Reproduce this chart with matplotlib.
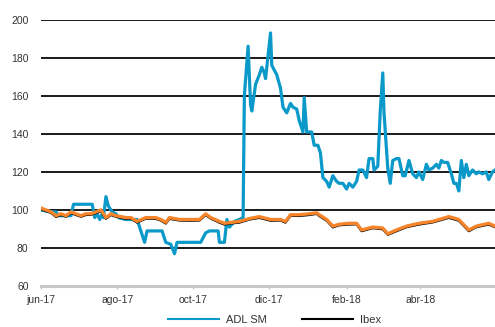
import matplotlib.pyplot as plt
import numpy as np
import pandas as pd

# ADL SM (base 100)
adl_dates = [
    "2017-06-01", "2017-06-09", "2017-06-13", "2017-06-15", "2017-06-25", "2017-06-27",
    "2017-07-12", "2017-07-14", "2017-07-16", "2017-07-18", "2017-07-20", "2017-07-21",
    "2017-07-23", "2017-07-25", "2017-07-28", "2017-07-31", "2017-08-02", "2017-08-08",
    "2017-08-17", "2017-08-20", "2017-08-23", "2017-08-25", "2017-09-06", "2017-09-09",
    "2017-09-13", "2017-09-16", "2017-09-18", "2017-10-07", "2017-10-11", "2017-10-14",
    "2017-10-21", "2017-10-22", "2017-10-26", "2017-10-28", "2017-10-30", "2017-11-03",
    "2017-11-07", "2017-11-10", "2017-11-11", "2017-11-14", "2017-11-16", "2017-11-17",
    "2017-11-20", "2017-11-23", "2017-11-25", "2017-11-27", "2017-11-28", "2017-12-02",
    "2017-12-03", "2017-12-07", "2017-12-10", "2017-12-12", "2017-12-15", "2017-12-18",
    "2017-12-20", "2017-12-23", "2017-12-25", "2017-12-28", "2017-12-29", "2017-12-31",
    "2018-01-04", "2018-01-06", "2018-01-09", "2018-01-11", "2018-01-13", "2018-01-16",
    "2018-01-18", "2018-01-21", "2018-01-24", "2018-01-26", "2018-01-29", "2018-02-01",
    "2018-02-03", "2018-02-06", "2018-02-09", "2018-02-11", "2018-02-14", "2018-02-17",
    "2018-02-19", "2018-02-22", "2018-02-23", "2018-02-26", "2018-02-28", "2018-03-02",
    "2018-03-03", "2018-03-06", "2018-03-08", "2018-03-10", "2018-03-13", "2018-03-15",
    "2018-03-18", "2018-03-20", "2018-03-23", "2018-03-26", "2018-03-29", "2018-03-31",
    "2018-04-03", "2018-04-06", "2018-04-08", "2018-04-11", "2018-04-14", "2018-04-16",
    "2018-04-18", "2018-04-20", "2018-04-23", "2018-04-26", "2018-04-28", "2018-04-30",
    "2018-05-02", "2018-05-04", "2018-05-06", "2018-05-08", "2018-05-10", "2018-05-13",
    "2018-05-16", "2018-05-18", "2018-05-21", "2018-05-24", "2018-05-26", "2018-05-29",
    "2018-05-31",
]
adl_values = [
    100, 99, 99, 97, 97, 103,
    103, 96, 98, 95, 98, 96,
    107, 102, 99, 98, 96, 95,
    95, 89, 83, 89, 89, 83,
    82, 77, 83, 83, 88, 89,
    89, 83, 83, 95, 91, 94,
    95, 96, 160, 186, 155, 152,
    166, 171, 175, 172, 169, 193,
    176, 171, 164, 154, 151, 156,
    154, 153, 147, 141, 159, 141,
    141, 134, 134, 130, 117, 115,
    112, 118, 115, 114, 114, 111,
    114, 112, 115, 121, 121, 117,
    127, 127, 121, 123, 152, 172,
    151, 122, 114, 126, 127, 127,
    118, 118, 126, 119, 117, 120,
    116, 124, 121, 122, 124, 122,
    126, 125, 125, 119, 114, 114,
    110, 126, 117, 124, 118, 121,
    119, 120, 119, 120, 116, 120,
    121,
]

# sector / Ibex (base 100)
idx_dates = [
    "2017-06-01", "2017-06-05", "2017-06-09", "2017-06-13", "2017-06-17", "2017-06-21",
    "2017-06-25", "2017-06-29", "2017-07-03", "2017-07-07", "2017-07-11", "2017-07-15",
    "2017-07-19", "2017-07-23", "2017-07-27", "2017-07-31", "2017-08-08", "2017-08-12",
    "2017-08-17", "2017-08-24", "2017-09-01", "2017-09-05", "2017-09-09", "2017-09-12",
    "2017-09-20", "2017-09-28", "2017-10-06", "2017-10-11", "2017-10-15", "2017-10-22",
    "2017-10-26", "2017-11-01", "2017-11-07", "2017-11-15", "2017-11-23", "2017-12-02",
    "2017-12-10", "2017-12-14", "2017-12-18", "2017-12-25", "2018-01-02", "2018-01-08",
    "2018-01-10", "2018-01-16", "2018-01-21", "2018-01-26", "2018-02-03", "2018-02-09",
    "2018-02-13", "2018-02-22", "2018-03-02", "2018-03-06", "2018-03-13", "2018-03-21",
    "2018-03-31", "2018-04-11", "2018-04-24", "2018-05-02", "2018-05-10", "2018-05-16",
    "2018-05-26", "2018-05-31",
]
sector_values = [
    101, 100, 99, 97, 98, 97,
    99, 98, 97, 98, 98, 99,
    100, 96, 98, 97, 96, 96,
    94, 96, 96, 95, 93.5, 96,
    95, 95, 95, 98, 96, 94,
    93, 93.5, 94, 95.5, 96.5, 95,
    95, 94, 97.5, 97.5, 98, 98.5,
    97.5, 95, 91.5, 92.5, 93, 93,
    89.5, 91, 90.5, 87.5, 89.5, 91.5,
    93, 94, 96.5, 95, 89.5, 91.5,
    93, 91.5,
]
ibex_values = [
    100.4, 99.4, 98.5, 96.4, 97.4, 96.5,
    98.4, 97.4, 96.5, 97.4, 97.5, 98.4,
    99.4, 95.4, 97.4, 96.5, 95.4, 95.5,
    93.4, 95.5, 95.4, 94.5, 92.9, 95.4,
    94.5, 94.4, 94.5, 97.4, 95.5, 93.4,
    92.4, 93.0, 93.4, 95.0, 95.9, 94.4,
    94.5, 93.4, 97.0, 96.9, 97.4, 98.0,
    96.9, 94.4, 90.9, 92.0, 92.4, 92.5,
    88.9, 90.5, 89.9, 87.0, 88.9, 91.0,
    92.4, 93.5, 95.9, 94.4, 88.9, 91.0,
    92.4, 91.0,
]

month_ticks = ["2017-06-01", "2017-08-01", "2017-10-01", "2017-12-01", "2018-02-01", "2018-04-01"]
month_labels = ["jun-17", "ago-17", "oct-17", "dic-17", "feb-18", "abr-18"]


def main():
    plt.rcParams["font.family"] = ["Liberation Sans", "DejaVu Sans"]

    fig = plt.figure(figsize=(4.95, 3.27), dpi=100)
    ax = fig.add_axes([0.083, 0.125, 0.917, 0.815])

    adl_x = pd.to_datetime(adl_dates)
    idx_x = pd.to_datetime(idx_dates)

    # gridlines
    ax.set_ylim(60, 200)
    ax.set_yticks(np.arange(60, 201, 20))
    ax.grid(axis="y", color="#1a1a1a", linewidth=1.4)
    ax.set_axisbelow(True)

    # series
    ax.plot(adl_x, adl_values, color="#0a99c9", linewidth=2.3, label="ADL SM", zorder=3)
    ax.plot(idx_x, ibex_values, color="black", linewidth=1.7, label="Ibex", zorder=3)
    ax.plot(idx_x, sector_values, color="#f5842a", linewidth=2.4, zorder=4)

    ax.set_xlim(pd.Timestamp("2017-06-01"), pd.Timestamp("2018-05-31"))
    ax.set_xticks(pd.to_datetime(month_ticks), month_labels)

    for side in ["left", "right", "top"]:
        ax.spines[side].set_visible(False)
    ax.spines["bottom"].set_color("#c8c8c8")
    ax.spines["bottom"].set_linewidth(2.2)

    ax.tick_params(axis="y", length=0, pad=9, labelsize=7.5, labelcolor="#333333")
    ax.tick_params(axis="x", length=2.5, width=1, color="#c8c8c8", pad=4,
                   labelsize=7.5, labelcolor="#333333")

    # legend handles only 1.5px thick in the reference
    leg = fig.legend(loc="center", bbox_to_anchor=(0.555, 0.022), ncol=2, frameon=False,
                     fontsize=8, handlelength=4.6, handletextpad=0.6, columnspacing=3.2,
                     labelcolor="#333333")
    for line in leg.get_lines():
        line.set_linewidth(1.5)

    fig.savefig("out.png", dpi=100)


if __name__ == "__main__":
    main()
